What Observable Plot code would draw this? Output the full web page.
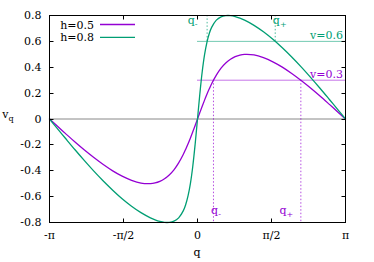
<!DOCTYPE html>
<html><head><meta charset="utf-8">
<script src="https://cdn.jsdelivr.net/npm/d3@7"></script>
<script src="https://cdn.jsdelivr.net/npm/@observablehq/plot@0.6"></script>
<style>
html,body{margin:0;padding:0;background:#fff}
svg{display:block}
#chart svg, #chart svg text, #chart svg tspan{font-family:"DejaVu Serif",serif !important;}
</style>
</head><body><div id="chart"></div>
<script>
// ---- data ----
const q = [-3.14159, -3.0, -2.8, -2.6, -2.4, -2.2, -2.0, -1.8, -1.6, -1.4, -1.2, -1.0, -0.9, -0.8, -0.7, -0.6, -0.5, -0.4, -0.3, -0.25, -0.2, -0.15, -0.1, -0.05,
  0, 0.05, 0.1, 0.15, 0.2, 0.25, 0.3, 0.4, 0.5, 0.6, 0.7, 0.8, 0.9, 1.0, 1.2, 1.4, 1.6, 1.8, 2.0, 2.2, 2.4, 2.6, 2.8, 3.0, 3.14159];
const vH05 = [0, -0.047, -0.113, -0.178, -0.240, -0.298, -0.352, -0.401, -0.442, -0.474, -0.495, -0.499, -0.494, -0.482, -0.462, -0.433, -0.393, -0.339, -0.272, -0.233, -0.191, -0.146, -0.099, -0.050,
  0, 0.050, 0.099, 0.146, 0.191, 0.233, 0.272, 0.339, 0.393, 0.433, 0.462, 0.482, 0.494, 0.499, 0.495, 0.474, 0.442, 0.401, 0.352, 0.298, 0.240, 0.178, 0.113, 0.047, 0];
const vH08 = [0, -0.063, -0.151, -0.238, -0.322, -0.403, -0.479, -0.550, -0.616, -0.674, -0.724, -0.764, -0.780, -0.792, -0.799, -0.799, -0.790, -0.764, -0.708, -0.661, -0.593, -0.497, -0.365, -0.195,
  0, 0.195, 0.365, 0.497, 0.593, 0.661, 0.708, 0.764, 0.790, 0.799, 0.799, 0.792, 0.780, 0.764, 0.724, 0.674, 0.616, 0.550, 0.479, 0.403, 0.322, 0.238, 0.151, 0.063, 0];

const seriesNames = ["h=0.5", "h=0.8"];
const seriesColors = ["#9400d3", "#009e73"];
const seriesValues = [vH05, vH08];

const levelV = [0.6, 0.3];
const levelSeries = [1, 0];
const levelLabels = ["v=0.6", "v=0.3"];
const levelFrom = [0, 0];
const levelTo = [3.14159, 3.14159];
const levelQMinus = [0.204, 0.339];
const levelQPlus = [1.650, 2.194];
const levelDashTo = [0.8, -0.8];

const xTicks = [-3.14159, -1.570795, 0, 1.570795, 3.14159];
const xTickLabels = ["-π", "-π/2", "0", "π/2", "π"];
const yTicks = [-0.8, -0.6, -0.4, -0.2, 0, 0.2, 0.4, 0.6, 0.8];
const yTickLabels = ["-0.8", "-0.6", "-0.4", "-0.2", "0", "0.2", "0.4", "0.6", "0.8"];

// ---- tables ----
const curveRows = seriesNames.flatMap((s, i) => q.map((qq, j) => ({series: s, q: qq, v: seriesValues[i][j]})));
const levelRows = levelV.map((v, i) => ({v, color: seriesColors[levelSeries[i]], from: levelFrom[i], to: levelTo[i],
  qm: levelQMinus[i], qp: levelQPlus[i], dashTo: levelDashTo[i], label: levelLabels[i]}));
const dashRows = levelRows.flatMap(r => [{q: r.qm, y1: r.v, y2: r.dashTo, color: r.color}, {q: r.qp, y1: r.v, y2: r.dashTo, color: r.color}]);

const FONT = "'DejaVu Serif', serif";
const FS = 11;

function inwardTicks(index, scales, values, dims) {
  const {x, y} = scales;
  const L = dims.marginLeft, R = dims.width - dims.marginRight, T = dims.marginTop, B = dims.height - dims.marginBottom;
  const g = d3.create("svg:g").attr("stroke", "#000").attr("stroke-width", 1).attr("transform", "translate(0.5,0.5)");
  for (const t of xTicks) {
    const px = Math.round(x(t));
    g.append("line").attr("x1", px).attr("x2", px).attr("y1", B).attr("y2", B - 4);
    g.append("line").attr("x1", px).attr("x2", px).attr("y1", T).attr("y2", T + 4);
  }
  for (const t of yTicks) {
    const py = Math.round(y(t));
    g.append("line").attr("x1", L).attr("x2", L + 4).attr("y1", py).attr("y2", py);
    g.append("line").attr("x1", R).attr("x2", R - 4).attr("y1", py).attr("y2", py);
  }
  return g.node();
}

function labels(index, scales, values, dims) {
  const {x, y} = scales;
  const L = dims.marginLeft, R = dims.width - dims.marginRight, T = dims.marginTop, B = dims.height - dims.marginBottom;
  const g = d3.create("svg:g").attr("font-family", FONT).attr("font-size", FS);
  // axis titles
  const yl = g.append("text").attr("x", 8).attr("y", (T + B) / 2 - 1).attr("fill", "#000").text("v");
  yl.append("tspan").attr("dy", 3).attr("font-size", 8).text("q");
  g.append("text").attr("x", (L + R) / 2).attr("y", dims.height - 6).attr("text-anchor", "middle").attr("fill", "#000").text("q");
  // legend
  seriesNames.forEach((s, i) => {
    const ly = T + 9.5 + i * 12.8;
    g.append("text").attr("x", L + 45).attr("y", ly + 4).attr("text-anchor", "end").attr("fill", "#000").text(s);
    g.append("line").attr("x1", L + 51).attr("x2", L + 86).attr("y1", ly).attr("y2", ly)
      .attr("stroke", seriesColors[i]).attr("stroke-width", 1.3);
  });
  // level labels and q± labels
  levelRows.forEach((r, i) => {
    g.append("text").attr("x", R - 2).attr("y", y(r.v) - 2).attr("text-anchor", "end").attr("fill", r.color).text(r.label);
    const top = r.dashTo > r.v;
    const by = top ? T + 9 : B - 8;
    const offM = top ? -14 : 3;
    const offP = top ? 5 : -14;
    for (const [qq, off, sub] of [[r.qm, offM, "-"], [r.qp, offP, "+"]]) {
      const t = g.append("text").attr("x", x(qq) + off).attr("y", by).attr("fill", r.color).text("q");
      t.append("tspan").attr("dy", 3).attr("font-size", 8).text(sub);
    }
  });
  return g.node();
}

const chart = Plot.plot({
  width: 374, height: 262,
  marginLeft: 49, marginRight: 29, marginTop: 15, marginBottom: 40,
  style: {fontFamily: FONT, fontSize: FS + "px", background: "#fff", color: "#000"},
  x: {domain: [-3.14159, 3.14159]},
  y: {domain: [-0.8, 0.8]},
  color: {domain: seriesNames, range: seriesColors},
  marks: [
    Plot.ruleY([0], {stroke: "#888", strokeWidth: 1}),
    Plot.ruleY(levelRows, {y: "v", x1: "from", x2: "to", stroke: "color", strokeWidth: 1, strokeOpacity: 0.55}),
    Plot.ruleX(dashRows, {x: "q", y1: "y1", y2: "y2", stroke: "color", strokeWidth: 1, strokeDasharray: "1.5,2", strokeOpacity: 0.7}),
    Plot.line(curveRows, {x: "q", y: "v", z: "series", stroke: "series", strokeWidth: 1.3, curve: "catmull-rom"}),
    Plot.frame({stroke: "#000", strokeWidth: 1}),
    Plot.axisX({ticks: xTicks, tickFormat: d => xTickLabels[xTicks.indexOf(d)], tickSize: 0, tickPadding: 9, label: null, fontSize: FS}),
    Plot.axisY({ticks: yTicks, tickFormat: d => yTickLabels[yTicks.indexOf(d)], tickSize: 0, tickPadding: 8, label: null, fontSize: FS}),
    inwardTicks,
    labels
  ]
});
document.getElementById("chart").appendChild(chart);
</script>
</body></html>
